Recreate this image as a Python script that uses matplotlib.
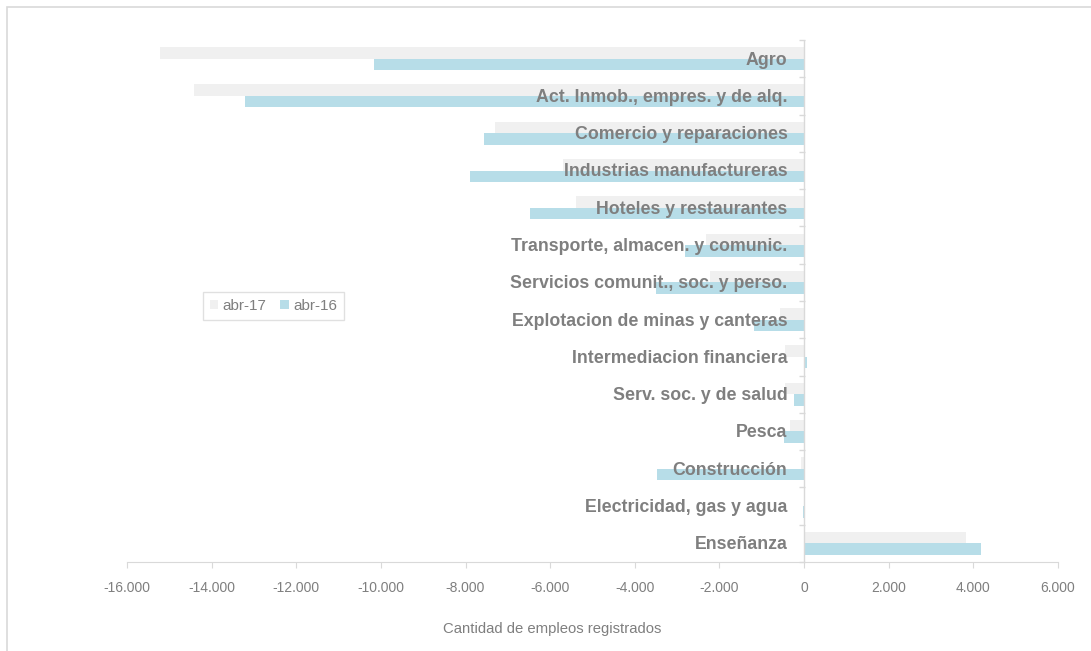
import matplotlib.pyplot as plt
from matplotlib.patches import Rectangle
from matplotlib.ticker import FuncFormatter
import numpy as np

plt.rcParams['font.family'] = ['Liberation Sans', 'DejaVu Sans']

# Sectores, de arriba hacia abajo
sectores = [
    "Agro",
    "Act. Inmob., empres. y de alq.",
    "Comercio y reparaciones",
    "Industrias manufactureras",
    "Hoteles y restaurantes",
    "Transporte, almacen. y comunic.",
    "Servicios comunit., soc. y perso.",
    "Explotacion de minas y canteras",
    "Intermediacion financiera",
    "Serv. soc. y de salud",
    "Pesca",
    "Construcción",
    "Electricidad, gas y agua",
    "Enseñanza",
]
abr17 = [-15220, -14410, -7310, -5700, -5400, -2320, -2220, -570,
         -450, -440, -330, -70, -10, 3830]
abr16 = [-10160, -13210, -7560, -7900, -6470, -2810, -3500, -1180,
         60, -240, -470, -3470, -25, 4180]

gris = '#f0f0f0'
celeste = '#b7dde8'
texto = '#7f7f7f'
linea = '#d9d9d9'

fig = plt.figure(figsize=(10.91, 6.51), dpi=100)
ax = fig.add_axes([127 / 1091, 89 / 651, 931 / 1091, 522 / 651])

# borde exterior del grafico
fig.patches.append(Rectangle((7 / 1091, -0.1), 1.2, (651 - 7) / 651 + 0.1,
                             transform=fig.transFigure, fill=False,
                             edgecolor=linea, linewidth=1.2))

y = np.arange(len(sectores))
h = 0.31
ax.barh(y - h / 2, abr17, height=h, color=gris, label='abr-17', zorder=2)
ax.barh(y + h / 2, abr16, height=h, color=celeste, label='abr-16', zorder=2)

ax.set_xlim(-16000, 6000)
ax.set_ylim(len(sectores) - 0.5, -0.5)
ax.set_xticks(np.arange(-16000, 6001, 2000))
ax.xaxis.set_major_formatter(FuncFormatter(lambda v, p: f"{int(v):,}".replace(",", ".")))
ax.tick_params(axis='x', colors=linea, labelcolor=texto, labelsize=10,
               length=4, pad=10)

# eje vertical en cero
for s in ['top', 'right', 'left']:
    ax.spines[s].set_visible(False)
ax.spines['bottom'].set_color(linea)
ax.axvline(0, color=linea, linewidth=1, zorder=3)
ax.set_yticks([])
ax.plot(np.full(len(sectores) + 1, -60), np.arange(len(sectores) + 1) - 0.5,
        linestyle='none', marker='_', markersize=5, color=linea, clip_on=False)

for i, s in enumerate(sectores):
    ax.annotate(s, xy=(0, i), xytext=(-12, -1), textcoords='offset points',
                ha='right', va='center', fontsize=12.8, fontweight='bold',
                color=texto, zorder=4)

ax.set_xlabel('Cantidad de empleos registrados', color=texto, fontsize=10.7)
ax.xaxis.set_label_coords(0.4565, -0.115)

leg = ax.legend(loc='upper left', bbox_to_anchor=((203 - 127) / 931, (562 - 292) / 522),
                ncol=2, frameon=True, fontsize=11, handlelength=0.55,
                handleheight=0.55, handletextpad=0.3, columnspacing=0.9,
                fancybox=False, borderpad=0.45, borderaxespad=0)
leg.get_frame().set_edgecolor(linea)
for t in leg.get_texts():
    t.set_color(texto)

fig.savefig('out.png', dpi=100)
